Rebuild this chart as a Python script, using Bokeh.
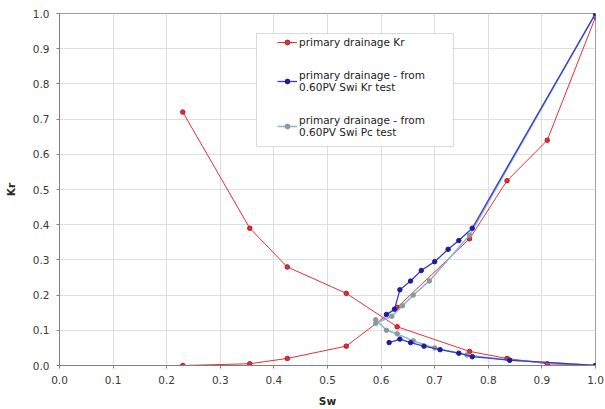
from bokeh.plotting import figure
from bokeh.embed import file_html
from bokeh.resources import INLINE
from bokeh.models import Legend, LegendItem, FixedTicker, NumeralTickFormatter, BoxAnnotation

# primary drainage Kr (red) - two branches
red_dec_sw = [0.23, 0.355, 0.425, 0.535, 0.63, 0.765, 0.835, 0.91, 1.0]
red_dec_kr = [0.72, 0.39, 0.28, 0.205, 0.11, 0.04, 0.02, 0.005, 0.0]
red_inc_sw = [0.23, 0.355, 0.425, 0.535, 0.63, 0.765, 0.835, 0.91, 1.0]
red_inc_kr = [0.0, 0.005, 0.02, 0.055, 0.165, 0.36, 0.525, 0.64, 0.99]

# primary drainage - from 0.60PV Swi Kr test (blue)
blue_inc_sw = [0.61, 0.625, 0.635, 0.655, 0.675, 0.70, 0.725, 0.745, 0.77, 1.0]
blue_inc_kr = [0.145, 0.16, 0.215, 0.24, 0.27, 0.295, 0.33, 0.355, 0.39, 1.0]
blue_dec_sw = [0.615, 0.635, 0.655, 0.68, 0.71, 0.745, 0.77, 0.84, 1.0]
blue_dec_kr = [0.065, 0.075, 0.065, 0.055, 0.045, 0.035, 0.025, 0.015, 0.0]

# primary drainage - from 0.60PV Swi Pc test (light blue)
lb_inc_sw = [0.59, 0.62, 0.64, 0.66, 0.69, 0.765, 1.0]
lb_inc_kr = [0.12, 0.14, 0.17, 0.20, 0.24, 0.37, 1.0]
lb_dec_sw = [0.59, 0.61, 0.63, 0.66, 0.70, 0.76, 0.84, 1.0]
lb_dec_kr = [0.13, 0.10, 0.09, 0.07, 0.05, 0.03, 0.015, 0.0]

ticks = [round(i * 0.1, 1) for i in range(11)]

RED = "#e33038"
RED_MARK = "#b8141c"
BLUE = "#3c3cc8"
BLUE_MARK = "#1c1c9c"
LBLUE = "#86b4e0"
LB_MARK = "#8a9a96"
FONT = "DejaVu Sans"

p = figure(width=605, height=409, output_backend="svg", toolbar_location=None,
           x_range=(0, 1), y_range=(0, 1),
           min_border_left=59, min_border_right=10, min_border_top=13, min_border_bottom=44)
p.outline_line_color = "#a0a0a0"
p.background_fill_color = "white"
p.border_fill_color = "white"

for ax in (p.xaxis, p.yaxis):
    ax.ticker = FixedTicker(ticks=ticks)
    ax.formatter = NumeralTickFormatter(format="0.0")
    ax.major_label_text_font = FONT
    ax.major_label_text_font_size = "10.5px"
    ax.major_label_text_color = "#3a3a3a"
    ax.major_label_standoff = 7
    ax.axis_line_color = "#808080"
    ax.major_tick_line_color = "#808080"
    ax.major_tick_in = 0
    ax.major_tick_out = 3
    ax.minor_tick_line_color = None
    ax.axis_label_text_font = FONT
    ax.axis_label_text_font_size = "10.5px"
    ax.axis_label_text_font_style = "bold"
    ax.axis_label_text_color = "#2a2a2a"
p.xaxis.axis_label = "Sw"
p.yaxis.axis_label = "Kr"
p.xaxis.axis_label_standoff = 8
p.yaxis.axis_label_standoff = 13
p.xgrid.grid_line_color = "#dedede"
p.ygrid.grid_line_color = "#dedede"

r1 = p.line(red_dec_sw, red_dec_kr, line_color=RED, line_width=1)
p.line(red_inc_sw, red_inc_kr, line_color=RED, line_width=1)
m1 = p.scatter(red_dec_sw, red_dec_kr, size=4.5, fill_color=RED, line_color=RED_MARK)
p.scatter(red_inc_sw, red_inc_kr, size=4.5, fill_color=RED, line_color=RED_MARK)

r3 = p.line(lb_inc_sw, lb_inc_kr, line_color=LBLUE, line_width=1.5)
p.line(lb_dec_sw, lb_dec_kr, line_color=LBLUE, line_width=1.5)
m3 = p.scatter(lb_inc_sw, lb_inc_kr, size=4.5, fill_color=LB_MARK, line_color=LB_MARK)
p.scatter(lb_dec_sw, lb_dec_kr, size=4.5, fill_color=LB_MARK, line_color=LB_MARK)

r2 = p.line(blue_inc_sw, blue_inc_kr, line_color=BLUE, line_width=1.3)
p.line(blue_dec_sw, blue_dec_kr, line_color=BLUE, line_width=1.3)
m2 = p.scatter(blue_inc_sw, blue_inc_kr, size=4.5, fill_color=BLUE_MARK, line_color=BLUE_MARK)
p.scatter(blue_dec_sw, blue_dec_kr, size=4.5, fill_color=BLUE_MARK, line_color=BLUE_MARK)

# legend frame
box = BoxAnnotation(left=0.3675, right=0.735, top=0.943, bottom=0.622,
                    fill_color="white", fill_alpha=1, line_color="#808080",
                    line_width=1, level="overlay")
p.add_layout(box)

legend = Legend(items=[
    LegendItem(label="primary drainage Kr", renderers=[r1, m1]),
    LegendItem(label="primary drainage - from\n0.60PV Swi Kr test", renderers=[r2, m2]),
    LegendItem(label="primary drainage - from\n0.60PV Swi Pc test", renderers=[r3, m3]),
], location=(218, 227))
legend.label_text_font = FONT
legend.label_text_font_size = "10.5px"
legend.label_text_line_height = 1.15
legend.label_text_color = "#222222"
legend.border_line_color = None
legend.background_fill_alpha = 0
legend.glyph_width = 20
legend.glyph_height = 12
legend.label_height = 12
legend.spacing = 21
legend.padding = 0
legend.margin = 0
legend.label_standoff = 2
p.add_layout(legend, "center")

open("out.html", "w").write(file_html(p, INLINE))
